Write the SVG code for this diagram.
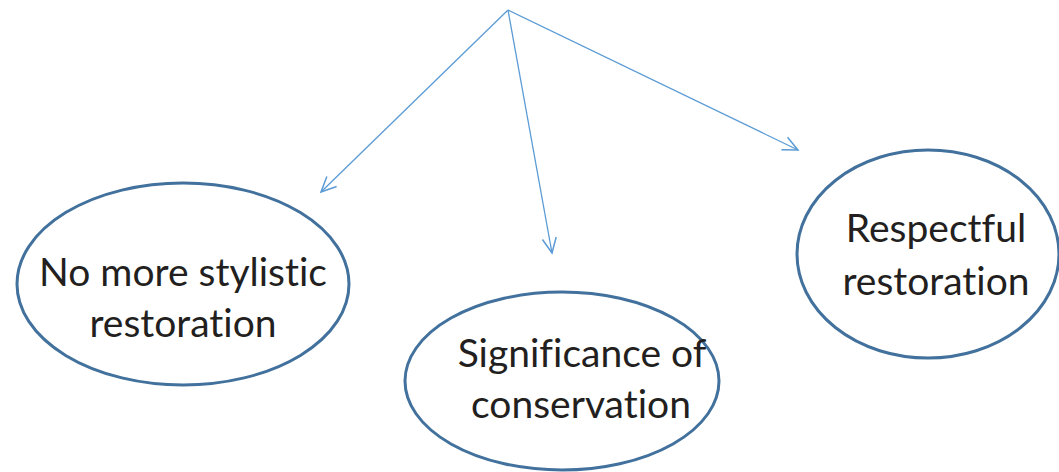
<svg xmlns="http://www.w3.org/2000/svg" width="1059" height="472" viewBox="0 0 1059 472">
<style>
.node ellipse{fill:#fff;stroke:#41719C;stroke-width:3}
.node text{font-family:Lato,"Open Sans",sans-serif;font-size:39px;fill:#231F20;text-anchor:middle;font-variant-ligatures:none}
.conn line{stroke:#5B9BD5;stroke-width:1.3;fill:none}
</style>
<defs>
<marker id="arr" viewBox="0 0 20 20" refX="18" refY="10" markerWidth="20" markerHeight="20" markerUnits="userSpaceOnUse" orient="auto">
<path d="M3,3 L18,10 L3,17" fill="none" stroke="#5B9BD5" stroke-width="1.5"/>
</marker>
</defs>
<rect width="1059" height="472" fill="#fff"/>
<g id="connectors" class="conn">
<line x1="508" y1="10" x2="321" y2="192" marker-end="url(#arr)"/>
<line x1="508" y1="10" x2="552" y2="253" marker-end="url(#arr)"/>
<line x1="508" y1="10" x2="798" y2="150" marker-end="url(#arr)"/>
</g>
<g id="node-stylistic" class="node">
<ellipse cx="183" cy="284" rx="166" ry="101"/>
<text x="183" y="286">No more stylistic</text>
<text x="183" y="337">restoration</text>
</g>
<g id="node-conservation" class="node">
<ellipse cx="562" cy="381" rx="157" ry="89"/>
<text x="582" y="367">Significance of</text>
<text x="581" y="418">conservation</text>
</g>
<g id="node-respectful" class="node">
<ellipse cx="928" cy="254" rx="131" ry="104"/>
<text x="936" y="242">Respectful</text>
<text x="936" y="295">restoration</text>
</g>
</svg>
